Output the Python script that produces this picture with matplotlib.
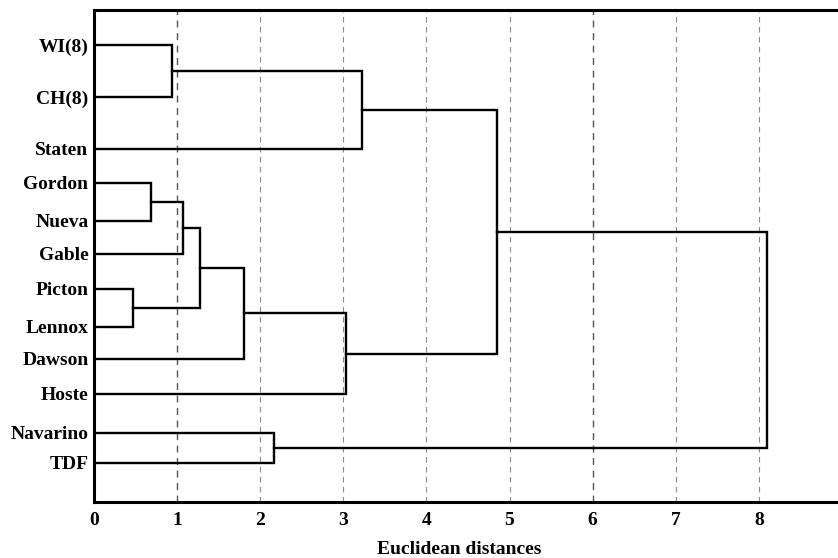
"""Dendrogram of island groups by Euclidean distance."""

import matplotlib.pyplot as plt

# Leaves, top to bottom, and their vertical positions.
leaves = ["WI(8)", "CH(8)", "Staten", "Gordon", "Nueva", "Gable",
          "Picton", "Lennox", "Dawson", "Hoste", "Navarino", "TDF"]
leaf_pos = [45, 97, 149, 183, 221, 254, 289, 327, 359, 394, 433, 463]

# Merges: ids < 12 are leaves, ids >= 12 are earlier merges (in order).
merge_left = [0, 12, 3, 14, 6, 15, 17, 18, 10, 13, 21]
merge_right = [1, 2, 4, 5, 7, 16, 8, 9, 11, 19, 20]
merge_height = [0.94, 3.23, 0.69, 1.07, 0.47, 1.27, 1.81, 3.03, 2.16, 4.85, 8.10]

x_ticks = [0, 1, 2, 3, 4, 5, 6, 7, 8, 9]

LINE_COLOR = "black"
LINE_WIDTH = 1.7

plt.rcParams.update({
    "font.family": "serif",
    "font.serif": ["Liberation Serif", "DejaVu Serif"],
    "font.weight": "bold",
    "font.size": 14,
})

fig = plt.figure(figsize=(8.38, 5.58), dpi=100)
# axes run past the right edge of the figure, as in the cropped original
ax = fig.add_axes([0.1122, 0.1004, 0.9222, 0.8817])

# vertical dashed gridlines
for t in x_ticks[1:]:
    dark = t in (1, 6)
    ax.axvline(t, color="#555555" if dark else "#8c8c8c", linewidth=1.0 if dark else 0.8,
               linestyle=(0, (5, 4)), zorder=0)

pos = list(leaf_pos)
height = [0.0] * len(leaves)
for a, b, h in zip(merge_left, merge_right, merge_height):
    ya, yb = pos[a], pos[b]
    ax.plot([height[a], h, h, height[b]], [ya, ya, yb, yb],
            color=LINE_COLOR, linewidth=LINE_WIDTH, solid_joinstyle="miter", zorder=2)
    pos.append((ya + yb) / 2)
    height.append(h)

ax.set_xlim(0, 9.3)
ax.set_ylim(502, 10)
ax.set_xticks(x_ticks)
ax.set_yticks(leaf_pos)
ax.set_yticklabels(leaves, fontweight="bold")
ax.tick_params(axis="both", length=0)
ax.tick_params(axis="y", pad=4)
ax.tick_params(axis="x", pad=7)
for lbl in ax.get_xticklabels():
    lbl.set_fontweight("bold")

for spine in ax.spines.values():
    spine.set_linewidth(2.2)

ax.set_xlabel("Euclidean distances", fontweight="bold", fontsize=14)
ax.xaxis.set_label_coords(0.473, -0.08)

fig.savefig("out.png", dpi=100)
